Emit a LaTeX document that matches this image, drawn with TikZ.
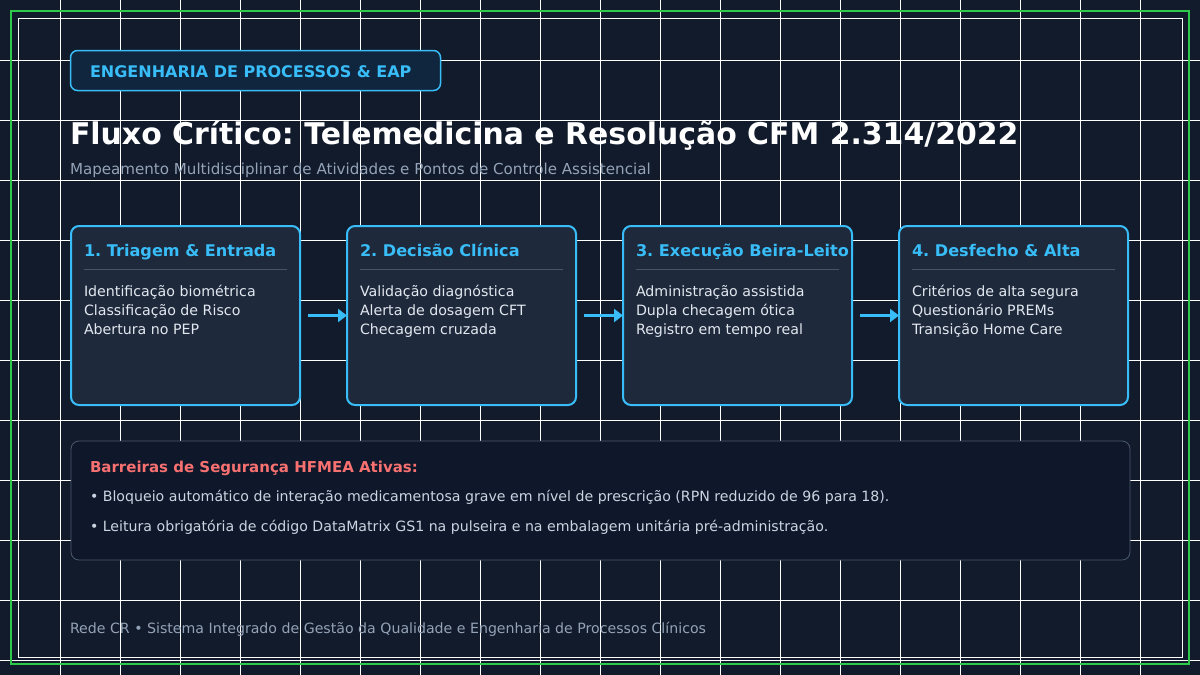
\documentclass[tikz,border=0pt]{standalone}
\usepackage{fontspec}
\setmainfont{DejaVu Sans}
\usetikzlibrary{arrows.meta,calc}
\frenchspacing
\definecolor{bg}{HTML}{121B2B}
\definecolor{sky}{HTML}{38BDF8}
\definecolor{card}{HTML}{1E293B}
\definecolor{sepc}{HTML}{475569}
\definecolor{badgefill}{HTML}{10263E}
\definecolor{panelfill}{HTML}{0F172A}
\definecolor{panelline}{HTML}{4A5A70}
\definecolor{redh}{HTML}{F87171}
\definecolor{bodytxt}{HTML}{E2E8F0}
\definecolor{bullettxt}{HTML}{CBD5E1}
\definecolor{muted}{HTML}{94A3B8}
\definecolor{frameg}{HTML}{2EC84A}
\begin{document}
\begin{tikzpicture}[x=1pt,y=-1pt,
  gridline/.style={white,line width=1pt},
  txt/.style={anchor=base west,inner sep=0pt,outer sep=0pt},
  stepbox/.style={draw=sky,line width=2pt,fill=card,rounded corners=8pt,minimum width=229pt,minimum height=179pt,inner sep=0pt,outer sep=0pt},
  badgebox/.style={draw=sky,line width=1.5pt,fill=badgefill,rounded corners=7pt,minimum width=370pt,minimum height=40pt,inner sep=0pt,outer sep=0pt},
  panelbox/.style={draw=panelline,line width=0.8pt,fill=panelfill,rounded corners=8pt,minimum width=1059pt,minimum height=119pt,inner sep=0pt,outer sep=0pt},
  sepline/.style={draw=sepc,line width=1pt},
  flow/.style={draw=sky,line width=2.5pt,-{Triangle[length=9pt,width=13pt]}},
  steptitle/.style={txt,text=sky,font=\fontsize{16.1}{19}\selectfont\bfseries},
  stepline/.style={txt,text=bodytxt,font=\fontsize{14.2}{17}\selectfont},
  bullet/.style={txt,text=bullettxt,font=\fontsize{14.15}{17}\selectfont},
]
\useasboundingbox (0,0) rectangle (1200,675);
\fill[bg] (0,0) rectangle (1200,675);
% grid
\foreach \x in {60,120,...,1140} \draw[gridline] (\x,0) -- (\x,675);
\foreach \y in {60,120,...,660} \draw[gridline] (0,\y) -- (1200,\y);
% frames
\draw[frameg,line width=2pt] (11,11) rectangle (1189,664);
\draw[white,line width=1pt] (18,18) rectangle (1182,657);

% header
\node[badgebox] (badge) at (255.5,70.5) {};
\node[txt,text=sky,font=\fontsize{16}{19}\selectfont\bfseries] (badgetxt) at (90,77) {ENGENHARIA DE PROCESSOS \& EAP};
\node[txt,text=white,font=\fontsize{29.9}{34}\selectfont\bfseries] (title) at (70,144) {Fluxo Crítico: Telemedicina e Resolução CFM 2.314/2022};
\node[txt,text=muted,font=\fontsize{15.1}{18}\selectfont] (subtitle) at (70,174) {Mapeamento Multidisciplinar de Atividades e Pontos de Controle Assistencial};

% step boxes
\node[stepbox] (b1) at (185.5,315.5) {};
\node[stepbox] (b2) at (461.5,315.5) {};
\node[stepbox] (b3) at (737.5,315.5) {};
\node[stepbox] (b4) at (1013.5,315.5) {};

\foreach \b in {b1,b2,b3,b4} {
  \draw[sepline] ($(\b.north west)+(13,43)$) -- ($(\b.north east)+(-13,43)$);
}

\node[steptitle] (b1t) at ($(b1.north west)+(13,30)$) {1. Triagem \& Entrada};
\node[stepline] (b1a) at ($(b1.north west)+(13,70)$) {Identificação biométrica};
\node[stepline] (b1b) at ($(b1.north west)+(13,89)$) {Classificação de Risco};
\node[stepline] (b1c) at ($(b1.north west)+(13,108)$) {Abertura no PEP};

\node[steptitle] (b2t) at ($(b2.north west)+(13,30)$) {2. Decisão Clínica};
\node[stepline] (b2a) at ($(b2.north west)+(13,70)$) {Validação diagnóstica};
\node[stepline] (b2b) at ($(b2.north west)+(13,89)$) {Alerta de dosagem CFT};
\node[stepline] (b2c) at ($(b2.north west)+(13,108)$) {Checagem cruzada};

\node[steptitle] (b3t) at ($(b3.north west)+(13,30)$) {3. Execução Beira-Leito};
\node[stepline] (b3a) at ($(b3.north west)+(13,70)$) {Administração assistida};
\node[stepline] (b3b) at ($(b3.north west)+(13,89)$) {Dupla checagem ótica};
\node[stepline] (b3c) at ($(b3.north west)+(13,108)$) {Registro em tempo real};

\node[steptitle] (b4t) at ($(b4.north west)+(13,30)$) {4. Desfecho \& Alta};
\node[stepline] (b4a) at ($(b4.north west)+(13,70)$) {Critérios de alta segura};
\node[stepline] (b4b) at ($(b4.north west)+(13,89)$) {Questionário PREMs};
\node[stepline] (b4c) at ($(b4.north west)+(13,108)$) {Transição Home Care};

% arrows
\draw[flow] ([xshift=8pt]b1.east) -- (b2.west);
\draw[flow] ([xshift=8pt]b2.east) -- (b3.west);
\draw[flow] ([xshift=8pt]b3.east) -- (b4.west);

% safety panel
\node[panelbox] (panel) at (600.5,500.5) {};
\node[txt,text=redh,font=\fontsize{15}{18}\selectfont\bfseries] (ph) at (90,472) {Barreiras de Segurança HFMEA Ativas:};
\node[bullet] (p1) at (90,501.7) {• Bloqueio automático de interação medicamentosa grave em nível de prescrição (RPN reduzido de 96 para 18).};
\node[bullet] (p2) at (90,531.7) {• Leitura obrigatória de código DataMatrix GS1 na pulseira e na embalagem unitária pré-administração.};

% footer
\node[txt,text=muted,font=\fontsize{14.15}{17}\selectfont] (footer) at (70,633) {Rede CR • Sistema Integrado de Gestão da Qualidade e Engenharia de Processos Clínicos};
\end{tikzpicture}
\end{document}
